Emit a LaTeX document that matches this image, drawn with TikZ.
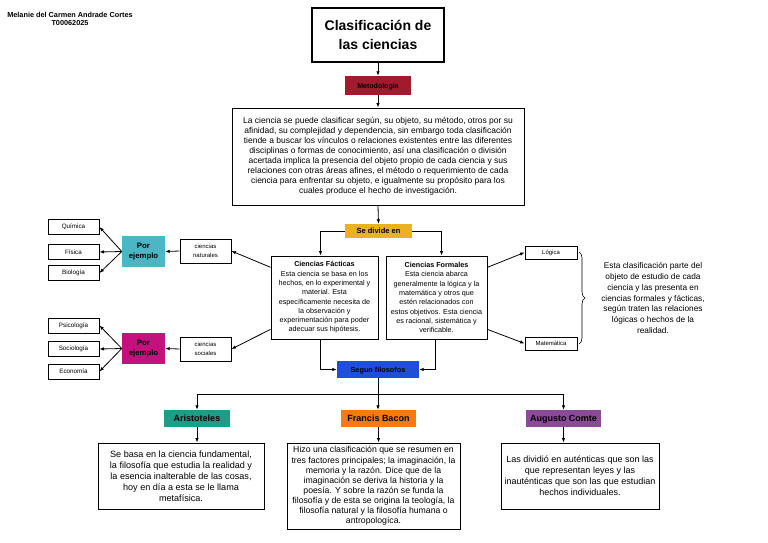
\documentclass[tikz,border=0pt]{standalone}
\usepackage{fontspec}
\setmainfont{Liberation Sans}
\usetikzlibrary{arrows.meta,decorations.pathreplacing,calc}
\definecolor{metored}{HTML}{A01B2E}
\definecolor{gold}{HTML}{E9B224}
\definecolor{cyanbox}{HTML}{4DB6C4}
\definecolor{magbox}{HTML}{C3127E}
\definecolor{bluebox}{HTML}{1E4FD6}
\definecolor{tealbox}{HTML}{1E9C85}
\definecolor{orangebox}{HTML}{F57B10}
\definecolor{purplebox}{HTML}{8A4A97}
\tikzset{
  box/.style={draw, line width=0.9pt, align=center, inner sep=0pt},
  cbox/.style={align=center, inner sep=0pt, text=black},
  lab/.style={cbox, text height=0.72em, text depth=0.2em},
  arr/.style={line width=0.8pt, -{Latex[length=4.5pt,width=3.5pt]}},
  ln/.style={line width=0.8pt},
  fs/.style n args={2}{font=\fontsize{#1}{#2}\selectfont},
  fb/.style n args={2}{font=\fontsize{#1}{#2}\selectfont\bfseries},
}
\begin{document}
\begin{tikzpicture}[x=1pt,y=-1pt]
\useasboundingbox (0,0) rectangle (768,543);
% author
\node[cbox, fb={7.3}{8.4}] (author) at (70,19) {Melanie del Carmen Andrade Cortes\\T00062025};
% title
\node[box, line width=1.1pt, minimum width=132pt, minimum height=54pt, fb={14}{19}] (title) at (378,35) {Clasificación de\\las ciencias};
\node[lab, fill=metored, minimum width=66pt, minimum height=19pt, fb={7}{8}] (meto) at (378,85.5) {Metodologia};
\node[box, minimum width=292pt, minimum height=97pt, fs={8.5}{10}] (big) at (378,156.5) {La ciencia se puede clasificar según, su objeto, su método, otros por su\\
afinidad, su complejidad y dependencia, sin embargo toda clasificación\\
tiende a buscar los vínculos o relaciones existentes entre las diferentes\\
disciplinas o formas de conocimiento, así una clasificación o división\\
acertada implica la presencia del objeto propio de cada ciencia y sus\\
relaciones con otras áreas afines, el método o requerimiento de cada\\
ciencia para enfrentar su objeto, e igualmente su propósito para los\\
cuales produce el hecho de investigación.};
\node[lab, fill=gold, minimum width=67pt, minimum height=14pt, fb={7.5}{8}] (divide) at (378.5,231) {Se divide en};
\node[box, minimum width=107pt, minimum height=83pt, fs={7.2}{9.3}] (fact) at (324.5,297.5) {\textbf{Ciencias Fácticas}\\Esta ciencia se basa en los\\hechos, en lo experimental y\\material. Esta\\específicamente necesita de\\la observación y\\experimentación para poder\\adecuar sus hipótesis.};
\node[box, minimum width=101pt, minimum height=83pt, fs={7.2}{9.3}] (form) at (436.5,297.5) {\textbf{Ciencias Formales}\\Esta ciencia abarca\\generalmente la lógica y la\\matemática y otros que\\estén relacionados con\\estos objetivos. Esta ciencia\\es racional, sistemática y\\verificable.};
% left side
\node[box, minimum width=51pt, minimum height=24pt, fs={6}{9}] (nat) at (205.5,251) {ciencias\\naturales};
\node[cbox, fill=cyanbox, minimum width=43pt, minimum height=31pt, fb={7.8}{10}] (por1) at (143.5,251.5) {Por\\ejemplo};
\node[box, minimum width=51pt, minimum height=15pt, fs={6.3}{7}] (quim) at (73.5,227) {Química};
\node[box, minimum width=51pt, minimum height=15pt, fs={6.3}{7}] (fis) at (73.5,252) {Física};
\node[box, minimum width=51pt, minimum height=15pt, fs={6.3}{7}] (bio) at (73.5,273) {Biología};
\node[box, minimum width=51pt, minimum height=24pt, fs={6}{9}] (soc) at (205.5,349) {ciencias\\sociales};
\node[cbox, fill=magbox, minimum width=43pt, minimum height=31pt, fb={7.8}{10}] (por2) at (143.5,348.5) {Por\\ejemplo};
\node[box, minimum width=51pt, minimum height=15pt, fs={6.3}{7}] (psic) at (73.5,325.5) {Psicología};
\node[box, minimum width=51pt, minimum height=15pt, fs={6.3}{7}] (socio) at (73.5,349) {Sociología};
\node[box, minimum width=51pt, minimum height=15pt, fs={6.3}{7}] (eco) at (73.5,371.5) {Economía};
% right side
\node[box, minimum width=52pt, minimum height=13pt, fs={6}{7}] (log) at (551,252.5) {Lógica};
\node[box, minimum width=52pt, minimum height=13pt, fs={6}{7}] (mat) at (551,343.5) {Matemática};
\node[cbox, fs={8.3}{10.7}] (bracetxt) at (653,298) {Esta clasificación parte del\\objeto de estudio de cada\\ciencia y las presenta en\\ciencias formales y fácticas,\\según traten las relaciones\\lógicas o hechos de la\\realidad.};
\coordinate (bt) at (579,252);
\coordinate (bb) at (579,344);
\draw[line width=0.6pt, decorate, decoration={brace, amplitude=6pt}] (bt) -- (bb);
% philosophers
\node[lab, fill=bluebox, minimum width=82pt, minimum height=17pt, fb={7.3}{8}] (seg) at (378,369.5) {Segun filosofos};
\coordinate (br) at (378,394);
\node[lab, fill=tealbox, minimum width=66pt, minimum height=17pt, fb={9}{10}] (arist) at (197,418.5) {Aristoteles};
\node[lab, fill=orangebox, minimum width=75pt, minimum height=17pt, fb={9}{10}] (bacon) at (378.5,418.5) {Francis Bacon};
\node[lab, fill=purplebox, minimum width=75pt, minimum height=17pt, fb={9}{10}] (comte) at (563.5,418.5) {Augusto Comte};
\node[box, minimum width=166pt, minimum height=66pt, fs={9.1}{11}] (aristxt) at (181,476) {Se basa en la ciencia fundamental,\\la filosofía que estudia la realidad y\\la esencia inalterable de las cosas,\\hoy en día a esta se le llama\\metafísica.};
\node[box, minimum width=173pt, minimum height=86pt, fs={8.7}{10.1}] (bacontxt) at (373.5,486) {Hizo una clasificación que se resumen en\\tres factores principales; la imaginación, la\\memoria y la razón. Dice que de la\\imaginación se deriva la historia y la\\poesía. Y sobre la razón se funda la\\filosofía y de esta se origina la teología, la\\filosofía natural y la filosofía humana o\\antropologíca.};
\node[box, minimum width=158pt, minimum height=66pt, fs={9}{11}] (comtetxt) at (580,476) {Las dividió en auténticas que son las\\que representan leyes y las\\inauténticas que son las que estudian\\hechos individuales.};
% connectors
\draw[arr] (title.south) -- (meto.north);
\draw[arr] (meto.south) -- (big.north);
\draw[arr] (big.south) -- (divide.north);
\draw[arr] (divide.west) -| ([xshift=-4pt]fact.north);
\draw[arr] (divide.east) -| ([xshift=5pt]form.north);
\draw[arr] ($(fact.north west)!0.14!(fact.south west)$) -- (nat.east);
\draw[arr] ($(fact.north west)!0.88!(fact.south west)$) -- (soc.east);
\draw[arr] (nat.west) -- (por1.east);
\draw[arr] (soc.west) -- (por2.east);
\draw[arr] (por1.west) -- (quim.east);
\draw[arr] (por1.west) -- (fis.east);
\draw[arr] (por1.west) -- (bio.east);
\draw[arr] (por2.west) -- (psic.east);
\draw[arr] (por2.west) -- (socio.east);
\draw[arr] (por2.west) -- (eco.east);
\draw[arr] ($(form.north east)!0.14!(form.south east)$) -- (log.west);
\draw[arr] ($(form.north east)!0.88!(form.south east)$) -- (mat.west);
\draw[arr] ([xshift=-4pt]fact.south) |- (seg.west);
\draw[arr] ([xshift=-1pt]form.south) |- (seg.east);
\draw[ln] (seg.south) -- (br);
\draw[arr] (br) -| (arist.north);
\draw[arr] (br) -| (comte.north);
\draw[arr] (br) -- (br |- bacon.north);
\draw[arr] (arist.south) -- (arist.south |- aristxt.north);
\draw[arr] (bacon.south) -- (bacon.south |- bacontxt.north);
\draw[arr] (comte.south) -- (comte.south |- comtetxt.north);
\end{tikzpicture}
\end{document}
